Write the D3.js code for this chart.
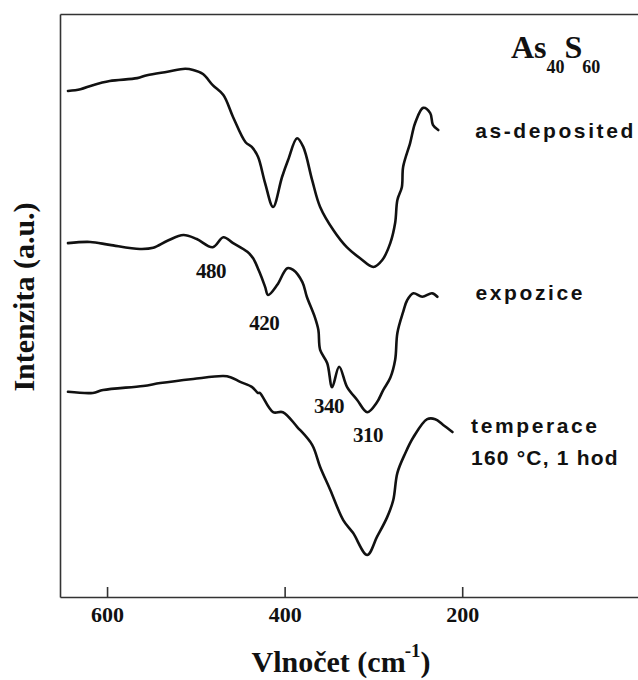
<!DOCTYPE html>
<html>
<head>
<meta charset="utf-8">
<script src="https://cdn.jsdelivr.net/npm/d3@7"></script>
<style>
  body { margin: 0; background: #fff; }
  svg { display: block; }
</style>
</head>
<body>
<div id="chart"></div>
<script>
// Raman spectra As40S60 (wavenumber cm-1, intensity a.u.)
const asDeposited = [
	[644, 86.8], [630, 87.1], [616, 87.8], [597, 88.5], [566, 89.0], [555, 89.5],
	[532, 90.1], [512, 90.6], [503, 90.4], [492, 89.7], [481, 87.8], [469, 86.1],
	[458, 82.3], [444, 78.0], [437, 77.2], [430, 75.5], [422, 71.0], [413, 66.9],
	[403, 72.0], [396, 75.0], [386, 78.7], [379, 77.2], [369, 71.5], [360, 66.9],
	[345, 62.9], [330, 60.0], [315, 58.1], [300, 56.6], [290, 57.8], [281, 60.7],
	[275.5, 64.2], [273, 68.1], [268, 70.3], [266.5, 73.8], [258.6, 77.9], [253, 81.3],
	[244, 83.9], [236, 83.0], [233, 81.0], [227, 80.1]
];
const expozice = [
	[644, 60.7], [619, 60.9], [597, 60.4], [563, 59.7], [548, 59.9], [532, 61.1],
	[514, 62.1], [499, 61.4], [481, 60.0], [469, 61.7], [458, 60.7], [442, 59.2],
	[435.5, 58.1], [428, 55.6], [422, 53.2], [418.6, 51.8], [408.5, 53.5], [397, 56.4],
	[390.4, 56.1], [380, 54.0], [375, 51.5], [366, 48.0], [362, 45.8], [360, 42.4],
	[352, 40.1], [346.5, 36.0], [338.6, 39.5], [329.6, 36.0], [318.3, 33.8], [307, 31.7],
	[296, 33.4], [289, 35.5], [281, 37.6], [275.5, 40.7], [273, 45.3], [266.5, 48.9],
	[262, 50.9], [255, 52.1], [245, 51.5], [234, 52.1], [228, 51.5]
];
const temperace = [
	[644, 35.2], [616, 35.0], [604.5, 35.5], [559.4, 36.2], [540, 36.7], [503, 37.4],
	[469, 37.9], [461, 37.7], [450, 36.9], [436.6, 36.0], [430, 35.0], [428, 35.0],
	[413, 31.7], [402, 31.7], [386, 29.2], [369, 26.1], [360, 22.3], [348.7, 18.4],
	[334, 13.2], [323, 11.0], [307, 7.2], [296, 10.3], [284.5, 13.7], [277.7, 16.6],
	[273, 21.3], [264, 24.7], [255, 27.4], [239.4, 30.5], [230.4, 30.5], [221.4, 29.5],
	[211, 28.3]
];
const series = [asDeposited, expozice, temperace];

const xTicks = [600, 400, 200];

// peak labels: text, wavenumber, intensity of the baseline
const peakLabels = [
	["480", 483, 54.7],
	["420", 423, 45.8],
	["340", 350, 31.6],
	["310", 306, 26.6]
];

// curve names: lines of text, wavenumber of left edge, intensity of first baseline
const curveNames = [
	[["as-deposited"], 185.4, 78.7],
	[["expozice"], 185, 50.9],
	[["temperace", "160 °C, 1 hod"], 190, 28.1]
];

const width = 638;
const height = 680;
const margin = { top: 14, right: 0, bottom: 83, left: 60 };

const svg = d3.select("#chart")
	.append("svg")
	.attr("width", width)
	.attr("height", height);

const x = d3.scaleLinear()
	.domain([653, 2])
	.range([margin.left, width - margin.right]);

const y = d3.scaleLinear()
	.domain([0, 100])
	.range([height - margin.bottom, margin.top]);

const axisColor = "#333";
const serif = "'Liberation Serif', 'Times New Roman', serif";
const sans = "'Liberation Sans', Arial, sans-serif";

// frame: bottom axis with inward ticks, plain left and top lines
const xAxis = svg.append("g")
	.attr("transform", `translate(0, ${y(0)})`)
	.call(d3.axisBottom(x).tickValues(xTicks).tickSize(-10).tickSizeOuter(0).tickPadding(9));

svg.append("g")
	.attr("transform", `translate(${x(653)}, 0)`)
	.call(d3.axisLeft(y).tickValues([]).tickSizeOuter(0));

svg.append("g")
	.attr("transform", `translate(0, ${y(100)})`)
	.call(d3.axisTop(x).tickValues([]).tickSizeOuter(0));

svg.selectAll(".domain, .tick line")
	.attr("stroke", axisColor)
	.attr("stroke-width", 1.6);

xAxis.selectAll(".tick text")
	.attr("fill", "#111")
	.style("font-family", serif)
	.style("font-weight", "bold")
	.style("font-size", "22px");

// spectra
const line = d3.line()
	.x((d) => x(d[0]))
	.y((d) => y(d[1]))
	.curve(d3.curveCatmullRom.alpha(0.5));

svg.append("g")
	.selectAll("path")
	.data(series)
	.enter()
	.append("path")
	.attr("d", line)
	.attr("fill", "none")
	.attr("stroke", "#111")
	.attr("stroke-width", 2.6)
	.attr("stroke-linejoin", "round")
	.attr("stroke-linecap", "round");

// peak positions
svg.append("g")
	.selectAll("text")
	.data(peakLabels)
	.enter()
	.append("text")
	.text((d) => d[0])
	.attr("x", (d) => x(d[1]))
	.attr("y", (d) => y(d[2]))
	.attr("text-anchor", "middle")
	.attr("fill", "#111")
	.style("font-family", serif)
	.style("font-weight", "bold")
	.style("font-size", "21px")
	.style("letter-spacing", "-0.5px");

// curve names
const names = svg.append("g")
	.selectAll("text")
	.data(curveNames)
	.enter()
	.append("text")
	.attr("x", (d) => x(d[1]))
	.attr("y", (d) => y(d[2]))
	.attr("fill", "#111")
	.style("font-family", sans)
	.style("font-weight", "bold")
	.style("font-size", "21px")
	.style("letter-spacing", "2.6px");

names.selectAll("tspan")
	.data((d) => d[0].map((t) => [t, d[1]]))
	.enter()
	.append("tspan")
	.attr("x", (d) => x(d[1]))
	.attr("dy", (d, i) => (i === 0 ? 0 : 32))
	.style("letter-spacing", (d, i) => (i === 0 ? null : "1.2px"))
	.text((d) => d[0]);

// sample name
const title = svg.append("text")
	.attr("x", 511)
	.attr("y", 58)
	.attr("fill", "#111")
	.style("font-family", serif)
	.style("font-weight", "bold")
	.style("font-size", "32px");
title.append("tspan").text("As");
title.append("tspan").attr("dy", 15).style("font-size", "18px").text("40");
title.append("tspan").attr("dy", -15).text("S");
title.append("tspan").attr("dy", 15).style("font-size", "18px").text("60");

// axis titles
const xLabel = svg.append("text")
	.attr("x", 341)
	.attr("y", 672)
	.attr("text-anchor", "middle")
	.attr("fill", "#111")
	.style("font-family", serif)
	.style("font-weight", "bold")
	.style("font-size", "30px");
xLabel.append("tspan").text("Vlnočet (cm");
xLabel.append("tspan").attr("dx", -1).attr("dy", -15).style("font-size", "19px").text("-1");
xLabel.append("tspan").attr("dy", 15).text(")");

svg.append("text")
	.attr("transform", "translate(34, 297) rotate(-90)")
	.attr("text-anchor", "middle")
	.attr("fill", "#111")
	.style("font-family", serif)
	.style("font-weight", "bold")
	.style("font-size", "30px")
	.text("Intenzita (a.u.)");
</script>
</body>
</html>
